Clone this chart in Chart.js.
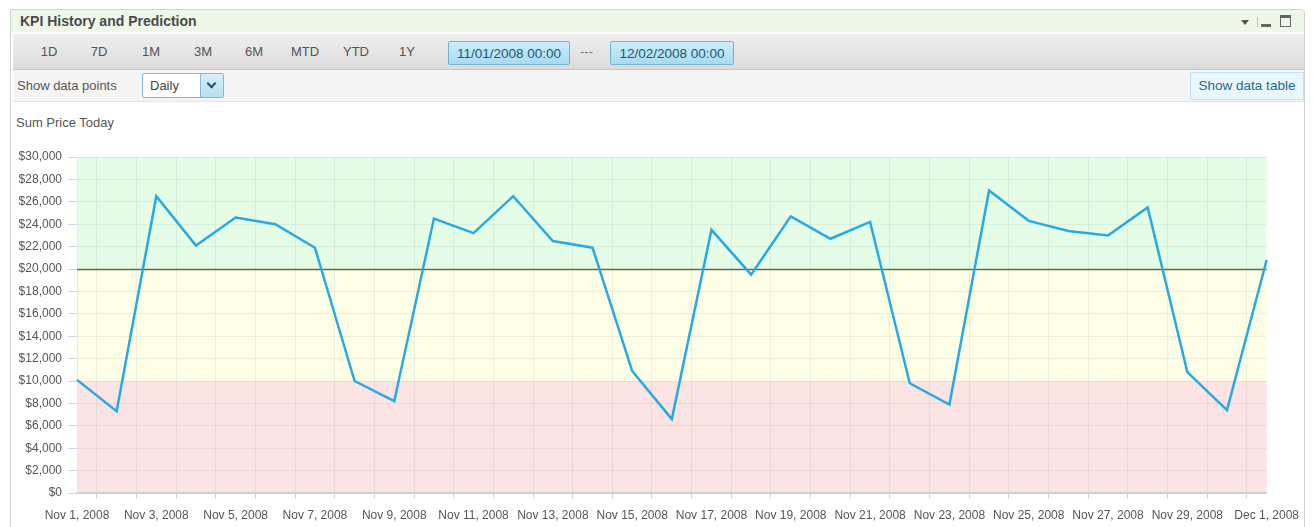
<!DOCTYPE html>
<html>
<head>
<meta charset="utf-8">
<title>KPI History and Prediction</title>
<script src="https://cdn.jsdelivr.net/npm/chart.js@4"></script>
<style>
  html, body { margin: 0; padding: 0; background: #fff; }
  body { width: 1313px; height: 527px; overflow: hidden; position: relative;
         font-family: "Liberation Sans", Arial, sans-serif; color: #555; }
  .panel { position: absolute; left: 10px; top: 9px; width: 1293px; height: 530px;
           border: 1px solid #cfd3cf; border-radius: 0 4px 0 0; }
  .header { position: absolute; left: 0; top: 0; right: 0; height: 22px; background: #eef7e8;
            border-bottom: 1px solid #f8fbf6; border-radius: 0 4px 0 0; }
  .header .title { position: absolute; left: 9px; top: 3px; font-size: 14px; font-weight: bold; color: #4b4b4b; }
  .icons { position: absolute; right: 11px; top: 5px; height: 12px; width: 52px; }
  .icons .tri { position: absolute; left: 0; top: 5px; width: 0; height: 0;
                border-left: 4px solid transparent; border-right: 4px solid transparent; border-top: 5px solid #555; }
  .icons .sep { position: absolute; left: 16px; top: 2px; width: 1px; height: 10px; background: #c4c4c4; }
  .icons .min { position: absolute; left: 20px; top: 9px; width: 10px; height: 3px; background: #666; }
  .icons .max { position: absolute; left: 39px; top: 0; width: 9px; height: 8px; border: 1px solid #666; border-top-width: 3px; }
  .toolbar { position: absolute; left: 2px; top: 24px; right: 0; height: 35px;
             background: linear-gradient(#f0eef1, #dcdcdc); border-bottom: 1px solid #c6c6c6; }
  .toolbar .b { position: absolute; top: 10px; font-size: 13px; color: #555; transform: translateX(-50%); }
  .date { position: absolute; top: 7px; height: 24px; line-height: 24px; font-size: 13.5px; color: #1d5673;
          background: linear-gradient(#cdeefb, #a8daf2); border: 1px solid #72b2d3; border-radius: 2px;
          box-sizing: border-box; text-align: center; }
  .dash { position: absolute; left: 567px; top: 10px; font-size: 13px; color: #777; }
  .row { position: absolute; left: 2px; top: 60px; right: 0; height: 31px; background: #f5f5f5;
         border-bottom: 1px solid #e4e4e4; }
  .row .lbl { position: absolute; left: 4px; top: 8px; font-size: 13px; color: #555; }
  .select { position: absolute; left: 129px; top: 3px; width: 82px; height: 25px; box-sizing: border-box;
            background: #fff; border: 1px solid #88b6d4; border-radius: 2px; }
  .select .v { position: absolute; left: 7px; top: 4px; font-size: 13px; color: #444; }
  .select .arr { position: absolute; right: 0; top: 0; width: 22px; height: 23px;
                 background: linear-gradient(#d8effa, #b7def2); border-left: 1px solid #88b6d4; }
  .select .arr:after { content: ""; position: absolute; left: 7px; top: 6px; width: 5px; height: 5px;
                       border-right: 2px solid #1f4f75; border-bottom: 2px solid #1f4f75; transform: rotate(45deg); }
  .tablebtn { position: absolute; right: 0; top: 2px; width: 114px; height: 28px; box-sizing: border-box;
              background: #e9f6fd; border: 1px solid #bfe2f4; font-size: 13.5px; color: #236a88;
              line-height: 26px; text-align: center; }
  .subtitle { position: absolute; left: 16px; top: 115px; font-size: 13px; color: #555; }
  .chartbox { position: absolute; left: 11px; top: 140px; width: 1297px; height: 387px; }
</style>
</head>
<body>
<div class="panel">
  <div class="header">
    <div class="title">KPI History and Prediction</div>
    <div class="icons"><div class="tri"></div><div class="sep"></div><div class="min"></div><div class="max"></div></div>
  </div>
  <div class="toolbar">
    <div class="b" style="left:36px">1D</div>
    <div class="b" style="left:86px">7D</div>
    <div class="b" style="left:138px">1M</div>
    <div class="b" style="left:190px">3M</div>
    <div class="b" style="left:241px">6M</div>
    <div class="b" style="left:292px">MTD</div>
    <div class="b" style="left:343px">YTD</div>
    <div class="b" style="left:394px">1Y</div>
    <div class="date" style="left:435px;width:122px">11/01/2008 00:00</div>
    <div class="dash">---</div>
    <div class="date" style="left:597px;width:124px">12/02/2008 00:00</div>
  </div>
  <div class="row">
    <div class="lbl">Show data points</div>
    <div class="select"><div class="v">Daily</div><div class="arr"></div></div>
    <div class="tablebtn">Show data table</div>
  </div>
</div>
<div class="subtitle">Sum Price Today</div>
<div class="chartbox"><canvas id="kpiChart"></canvas></div>

<script>
"use strict";

// Daily values
const days = [
  "Nov 1, 2008", "Nov 2, 2008", "Nov 3, 2008", "Nov 4, 2008", "Nov 5, 2008", "Nov 6, 2008",
  "Nov 7, 2008", "Nov 8, 2008", "Nov 9, 2008", "Nov 10, 2008", "Nov 11, 2008", "Nov 12, 2008",
  "Nov 13, 2008", "Nov 14, 2008", "Nov 15, 2008", "Nov 16, 2008", "Nov 17, 2008", "Nov 18, 2008",
  "Nov 19, 2008", "Nov 20, 2008", "Nov 21, 2008", "Nov 22, 2008", "Nov 23, 2008", "Nov 24, 2008",
  "Nov 25, 2008", "Nov 26, 2008", "Nov 27, 2008", "Nov 28, 2008", "Nov 29, 2008", "Nov 30, 2008",
  "Dec 1, 2008"
];
const sumPrice = [
  10100, 7300, 26500, 22100, 24600, 24000, 21900, 10000, 8200, 24500, 23200,
  26500, 22500, 21900, 10900, 6600, 23500, 19500, 24700, 22700, 24200, 9800,
  7900, 27000, 24300, 23400, 23000, 25500, 10800, 7400, 20800
];

// KPI bands (red / yellow / green) and target line
const bandEdges = [0, 10000, 20000, 30000];
const bandColors = ["#fce4e4", "#fefee6", "#e5fde6"];
const targetValue = 20000;

const ctx = document.getElementById("kpiChart").getContext("2d");

Chart.defaults.font.family = "'Liberation Sans', Arial, sans-serif";
Chart.defaults.font.size = 12;
Chart.defaults.color = "#555";

const bandsPlugin = {
  id: "kpiBands",
  beforeDraw(chart) {
    const { ctx, chartArea, scales } = chart;
    ctx.save();
    for (let i = 0; i < bandColors.length; i++) {
      const top = scales.y.getPixelForValue(bandEdges[i + 1]);
      const bottom = scales.y.getPixelForValue(bandEdges[i]);
      ctx.fillStyle = bandColors[i];
      ctx.fillRect(chartArea.left, top, chartArea.right - chartArea.left, bottom - top);
    }
    ctx.restore();
  },
  beforeDatasetsDraw(chart) {
    const { ctx, chartArea, scales } = chart;
    const y = Math.round(scales.y.getPixelForValue(targetValue)) + 0.5;
    ctx.save();
    ctx.strokeStyle = "#5d6b4e";
    ctx.lineWidth = 1.5;
    ctx.beginPath();
    ctx.moveTo(chartArea.left, y);
    ctx.lineTo(chartArea.right, y);
    ctx.stroke();
    ctx.restore();
  },
};

const kpiChart = new Chart(ctx, {
  type: "line",
  data: {
    labels: days,
    datasets: [
      {
        label: "Sum Price Today",
        data: sumPrice,
        borderColor: "#29a9e1",
        borderWidth: 2.5,
        pointRadius: 0,
        tension: 0,
        fill: false,
      },
    ],
  },
  options: {
    responsive: true,
    maintainAspectRatio: false,
    animation: false,
    layout: {
      padding: { top: 17, right: 36, bottom: 0, left: 0 },
    },
    scales: {
      x: {
        offset: false,
        grid: {
          offset: true,
          color: "rgba(110,130,150,0.12)",
          tickColor: "#c9d6e4",
          tickLength: 6,
        },
        border: { color: "#c5d2e0", width: 2 },
        ticks: {
          autoSkip: false,
          maxRotation: 0,
          minRotation: 0,
          padding: 9,
          callback: function (value, index) {
            return index % 2 === 0 ? days[index] : "";
          },
        },
        afterFit: (scale) => { scale.height = 34; },
      },
      y: {
        min: 0,
        max: 30000,
        grid: {
          color: "rgba(110,130,150,0.12)",
          tickColor: "#c9d9ea",
          tickLength: 9,
        },
        border: { color: "#e2e8ee", width: 1 },
        ticks: {
          stepSize: 2000,
          padding: 6,
          callback: function (value) {
            return "$" + value.toLocaleString("en-US");
          },
        },
        afterFit: (scale) => { scale.width = 66; },
      },
    },
    plugins: {
      legend: { display: false },
      tooltip: { enabled: false },
    },
  },
  plugins: [bandsPlugin],
});
</script>
</body>
</html>
